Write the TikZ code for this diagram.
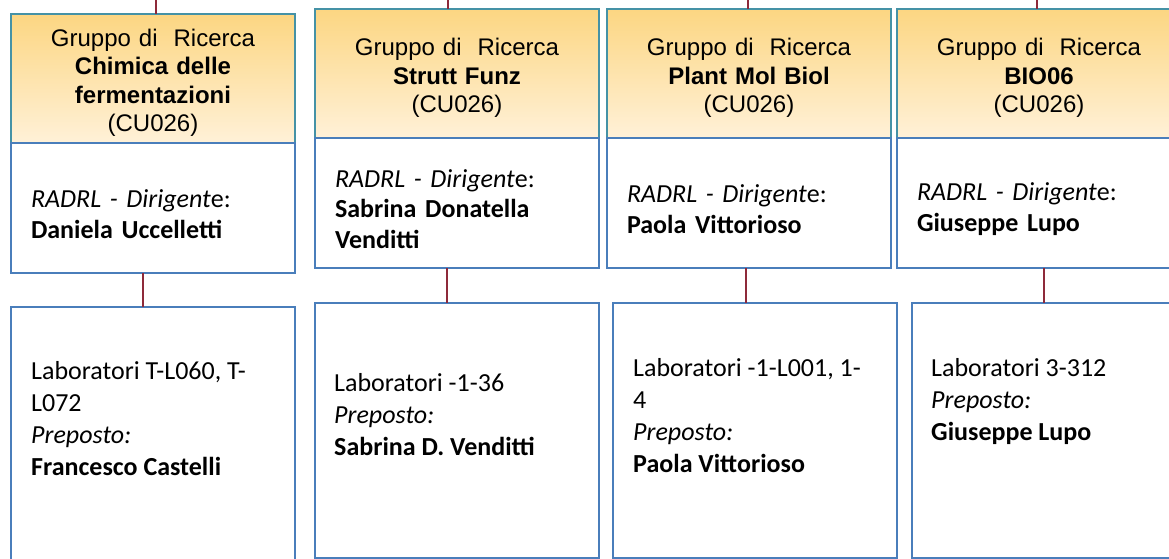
\documentclass[tikz,border=0pt]{standalone}
\usepackage{fontspec}
\setmainfont{Carlito}
\newfontfamily\arialfont{Liberation Sans}
\usetikzlibrary{positioning}
\definecolor{boxblue}{HTML}{4A7EBB}
\definecolor{headline}{HTML}{4592A6}
\definecolor{headtop}{HTML}{FCD682}
\definecolor{headbottom}{HTML}{FFF1D8}
\definecolor{linkred}{HTML}{8E2A3A}
\begin{document}
\begin{tikzpicture}[
  x=1pt,y=-1pt,
  group/.style={draw=headline,line width=1.6pt,top color=headtop,bottom color=headbottom,
    minimum width=284pt,minimum height=129pt,text width=270pt,inner xsep=7pt,
    inner ysep=0pt,outer sep=0pt,align=center,anchor=north west,
    font=\arialfont\fontsize{24}{28.5}\selectfont,
    execute at begin node=\rule{0pt}{26pt}},
  lead/.style={draw=boxblue,line width=1.6pt,fill=white,minimum width=284pt,
    minimum height=130pt,text width=244pt,inner xsep=20pt,inner ysep=0pt,outer sep=0pt,
    align=left,font=\fontsize{26}{30.5}\selectfont,
    execute at begin node=\rule{0pt}{30pt}},
  labbox/.style={draw=boxblue,line width=1.6pt,minimum width=284pt,minimum height=255pt,
    anchor=north west,outer sep=0pt},
  labtext/.style={anchor=north west,align=left,inner sep=0pt,
    font=\fontsize{26}{32}\selectfont},
  link/.style={draw=linkred,line width=1.5pt}
]
\useasboundingbox (0,0) rectangle (1169,559);
\clip (0,0) rectangle (1169,559);
% research groups
\node[group] (hdr1) at (11,14)
  {Gruppo di\ \ Ricerca\\\textbf{Chimica delle}\\\textbf{fermentazioni}\\(CU026)};
\node[group] (hdr2) at (315,9) {Gruppo di\ \ Ricerca\\\textbf{Strutt Funz}\\(CU026)};
\node[group] (hdr3) at (607,9) {Gruppo di\ \ Ricerca\\\textbf{Plant Mol Biol}\\(CU026)};
\node[group] (hdr4) at (897,9) {Gruppo di\ \ Ricerca\\\textbf{BIO06}\\(CU026)};
% heads
\node[lead,below=0pt of hdr1] (dir1) {\textit{RADRL - Dirigent}e:\\\textbf{Daniela Uccelletti}};
\node[lead,below=0pt of hdr2] (dir2) {\textit{RADRL - Dirigent}e:\\\textbf{Sabrina Donatella}\\\textbf{Venditti}};
\node[lead,below=0pt of hdr3] (dir3) {\textit{RADRL - Dirigent}e:\\\textbf{Paola Vittorioso}};
\node[lead,below=0pt of hdr4] (dir4) {\textit{RADRL - Dirigent}e:\\\textbf{Giuseppe Lupo}};
% labs
\node[labbox] (lab1) at (11,307) {};
\node[labbox] (lab2) at (315,303) {};
\node[labbox] (lab3) at (613,303) {};
\node[labbox] (lab4) at (912,303) {};
\node[labtext] (txt1) at (31,361) {Laboratori T-L060, T-\\L072\\\textit{Preposto:}\\\textbf{Francesco Castelli}};
\node[labtext] (txt2) at (334,373) {Laboratori -1-36\\\textit{Preposto:}\\\textbf{Sabrina D. Venditti}};
\node[labtext] (txt3) at (633,358) {Laboratori -1-L001, 1-\\4\\\textit{Preposto:}\\\textbf{Paola Vittorioso}};
\node[labtext] (txt4) at (931,358) {Laboratori 3-312\\\textit{Preposto:}\\\textbf{Giuseppe Lupo}};
% connectors
\foreach \i/\tx/\mx in {1/156/143,2/448/447,3/748/746,4/1037/1044}{
  \coordinate (top\i) at (\tx,0);
  \coordinate (mid\i) at (\mx,0);
  \draw[link] (top\i) -- (top\i |- hdr\i.north);
  \draw[link] (mid\i |- dir\i.south) -- (mid\i |- lab\i.north);
}
\end{tikzpicture}
\end{document}
